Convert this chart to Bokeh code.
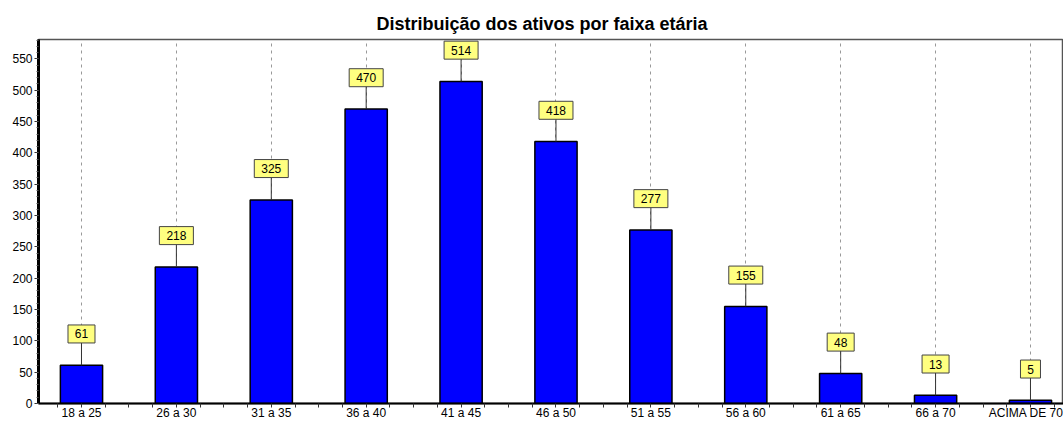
from bokeh.plotting import figure
from bokeh.models import FixedTicker, Range1d, ColumnDataSource, Title
from bokeh.core.properties import value
from bokeh.embed import file_html
from bokeh.resources import INLINE

categories = ["18 a 25", "26 a 30", "31 a 35", "36 a 40", "41 a 45", "46 a 50",
              "51 a 55", "56 a 60", "61 a 65", "66 a 70", "ACIMA DE 70"]
counts = [61, 218, 325, 470, 514, 418, 277, 155, 48, 13, 5]
y_ticks = list(range(0, 551, 50))

FONT = "Liberation Sans"
xs = list(range(len(categories)))
label_off = 50
src = ColumnDataSource(dict(
    x=xs, top=counts,
    ly=[c + label_off for c in counts],
    txt=[str(c) for c in counts],
    bw=[13 + 7 * len(str(c)) for c in counts],
))

p = figure(width=1063, height=422, output_backend="svg", toolbar_location=None,
           x_range=Range1d(-0.453, 10.348), y_range=Range1d(0, 581),
           min_border_left=38, min_border_right=0, min_border_top=39, min_border_bottom=0)
p.title = Title(text="Distribuição dos ativos por faixa etária", align="left", offset=338,
                text_font=FONT, text_font_size="18px", text_font_style="bold",
                text_color="black", standoff=11)

p.outline_line_color = "#555555"
p.outline_line_width = 1.5

# grids
p.ygrid.visible = False
p.xgrid.grid_line_color = "#999999"
p.xgrid.grid_line_dash = "3 4"
p.xgrid.grid_line_width = 1

# bars
p.vbar(x="x", top="top", width=0.445, bottom=0, source=src,
       fill_color="#0000FF", line_color="black", line_width=1.5)
# connector lines
p.segment(x0="x", y0="top", x1="x", y1="ly", source=src, line_color="#333333", line_width=1)
# label boxes
p.rect(x="x", y="ly", width="bw", height=18, width_units="screen", height_units="screen",
       source=src, fill_color="#FFFF80", line_color="#444444", line_width=1)
p.text(x="x", y="ly", text="txt", source=src, text_align="center", text_baseline="middle",
       text_font=value(FONT), text_font_size="12px", text_color="black")

# axes
minor = []
for i in xs:
    minor += [i - 0.5, i - 0.25, i + 0.25]
minor.append(xs[-1] + 0.5)
p.xaxis.ticker = FixedTicker(ticks=xs, minor_ticks=minor)
p.xaxis.major_label_overrides = {i: c for i, c in zip(xs, categories)}
p.xaxis.axis_line_color = "black"
p.xaxis.axis_line_width = 2
p.xaxis.major_tick_out = 4
p.xaxis.major_tick_in = 0
p.xaxis.minor_tick_out = 4
p.xaxis.minor_tick_in = 0
p.xaxis.major_tick_line_color = "#333333"
p.xaxis.minor_tick_line_color = "#333333"
p.xaxis.major_label_standoff = -2
p.xaxis.major_label_text_font = FONT
p.xaxis.major_label_text_font_size = "12px"
p.xaxis.major_label_text_color = "black"

p.yaxis.ticker = FixedTicker(ticks=y_ticks, minor_ticks=list(range(0, 581, 10)))
p.yaxis.axis_line_color = "black"
p.yaxis.axis_line_width = 3
p.yaxis.major_tick_out = 4
p.yaxis.major_tick_in = 0
p.yaxis.minor_tick_out = 2
p.yaxis.minor_tick_in = 0
p.yaxis.major_tick_line_color = "#333333"
p.yaxis.minor_tick_line_color = "#555555"
p.yaxis.major_label_standoff = 2
p.yaxis.major_label_text_font = FONT
p.yaxis.major_label_text_font_size = "12px"
p.yaxis.major_label_text_color = "black"

open("out.html", "w").write(file_html(p, INLINE))
